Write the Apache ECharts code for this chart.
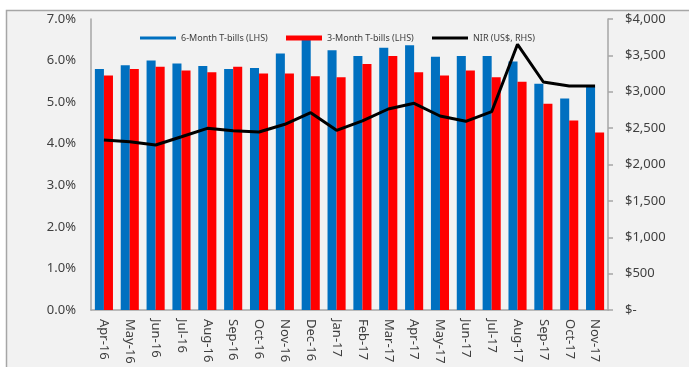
<!DOCTYPE html>
<html>
<head>
<meta charset="utf-8">
<script src="https://cdn.jsdelivr.net/npm/echarts@6/dist/echarts.min.js"></script>
<style>
html,body{margin:0;padding:0;background:#fff;}
#c{width:689px;height:367px;}
</style>
</head>
<body>
<div id="c"></div>
<script>
var categories = ['Apr-16','May-16','Jun-16','Jul-16','Aug-16','Sep-16','Oct-16','Nov-16','Dec-16','Jan-17','Feb-17','Mar-17','Apr-17','May-17','Jun-17','Jul-17','Aug-17','Sep-17','Oct-17','Nov-17'];
var sixMonth = [5.80,5.89,6.00,5.93,5.87,5.80,5.82,6.17,6.50,6.25,6.11,6.31,6.37,6.09,6.11,6.11,5.98,5.44,5.09,5.37];
var threeMonth = [5.64,5.80,5.85,5.76,5.72,5.85,5.69,5.69,5.62,5.60,5.92,6.11,5.72,5.64,5.76,5.60,5.49,4.96,4.56,4.27];
var nir = [2337,2314,2268,2382,2497,2465,2447,2553,2712,2470,2600,2763,2841,2667,2594,2726,3652,3134,3079,3079];
var leftTicks = {min:0, max:7, interval:1};
var rightTicks = {min:0, max:4000, interval:500};

var chart = echarts.init(document.getElementById('c'), null, {renderer:'canvas'});
var font = '"Noto Sans", "Open Sans", sans-serif';
var legendText = {fontSize:9, color:'#404040', fontFamily:font, lineHeight:12};
chart.setOption({
  animation:false,
  backgroundColor:'#ffffff',
  graphic:[{type:'rect', z:-10, silent:true, shape:{x:6.5,y:10.5,width:700,height:400}, style:{fill:'#f2f2f2', stroke:'#a6a6a6', lineWidth:1.5}}],
  grid:{left:91, right:81, top:19, bottom:57, containLabel:false},
  legend:[
    {data:['6-Month T-bills (LHS)'], left:140, top:32, padding:0, icon:'rect', itemWidth:36, itemHeight:3, itemGap:4, textStyle:legendText},
    {data:['3-Month T-bills (LHS)'], left:286, top:32, padding:0, icon:'rect', itemWidth:36, itemHeight:5, itemGap:4, textStyle:legendText},
    {data:['NIR (US$, RHS)'], left:432, top:32, padding:0, icon:'rect', itemWidth:36, itemHeight:3, itemGap:4, textStyle:legendText}
  ],
  xAxis:{type:'category', data:categories,
    axisLine:{lineStyle:{color:'#a6a6a6', width:1.5}},
    axisTick:{show:false},
    axisLabel:{rotate:-90, margin:9, fontSize:13, color:'#404040', fontFamily:font}
  },
  yAxis:[
    {type:'value', min:leftTicks.min, max:leftTicks.max, interval:leftTicks.interval,
     axisLine:{show:true, lineStyle:{color:'#a6a6a6', width:1.5}},
     axisTick:{show:false}, splitLine:{show:false},
     axisLabel:{margin:15, fontSize:13, color:'#404040', fontFamily:font, formatter:function(v){return v.toFixed(1)+'%';}}
    },
    {type:'value', position:'right', min:rightTicks.min, max:rightTicks.max, interval:rightTicks.interval,
     axisLine:{show:true, lineStyle:{color:'#a6a6a6', width:1.5}},
     axisTick:{show:true, inside:false, length:5, lineStyle:{color:'#a6a6a6', width:1.5}}, splitLine:{show:false},
     axisLabel:{margin:17, fontSize:13, color:'#404040', fontFamily:font, formatter:function(v){return v===0?'$-':'$'+v.toLocaleString('en-US');}}
    }
  ],
  series:[
    {name:'6-Month T-bills (LHS)', type:'bar', data:sixMonth, yAxisIndex:0, barGap:'0%', barCategoryGap:'30%', itemStyle:{color:'#0070c0'}},
    {name:'3-Month T-bills (LHS)', type:'bar', data:threeMonth, yAxisIndex:0, barGap:'0%', barCategoryGap:'30%', itemStyle:{color:'#ff0000'}},
    {name:'NIR (US$, RHS)', type:'line', data:nir, yAxisIndex:1, symbol:'none', lineStyle:{color:'#000000', width:3}, itemStyle:{color:'#000000'}, z:5}
  ]
});
</script>
</body>
</html>
